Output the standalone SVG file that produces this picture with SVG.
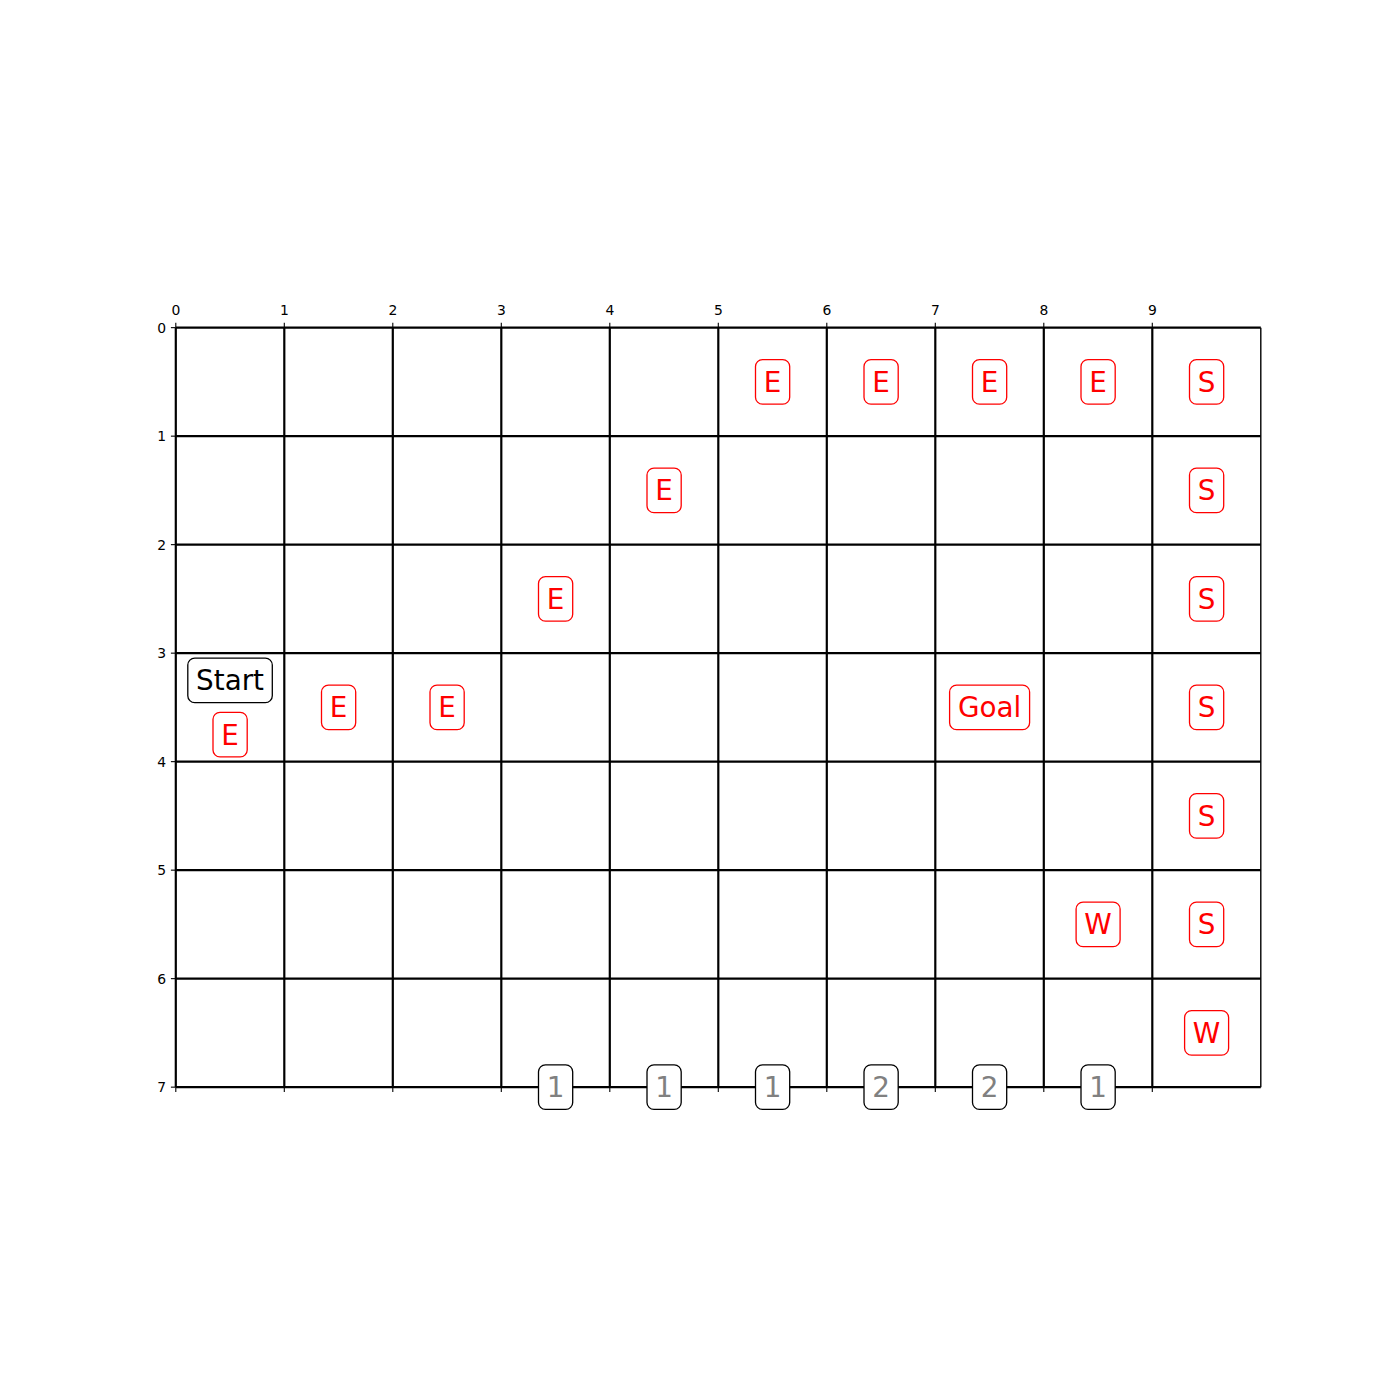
<svg xmlns="http://www.w3.org/2000/svg" width="1400" height="1400" viewBox="0 0 1400 1400">
<style>
.grid{stroke:#000;stroke-width:2.2;fill:none}
.spine{stroke:#000;stroke-width:1.4;fill:none}
.tick{stroke:#000;stroke-width:1.1}
.tl{font-family:"DejaVu Sans",sans-serif;font-size:13.9px;fill:#000}
.bx{font-family:"DejaVu Sans",sans-serif;font-size:27.8px;text-anchor:middle}
.rb{fill:#fff;stroke:#ff0000;stroke-width:1.3}
.kb{fill:#fff;stroke:#000;stroke-width:1.3}
.rt{fill:#ff0000}
.kt{fill:#000}
.gt{fill:#808080}
</style>
<rect width="1400" height="1400" fill="#fff"/>
<g transform="translate(0.8,0.4)">
<g id="connectors">
<g id="gridlines" class="grid">
<line x1="175" y1="327.25" x2="175" y2="1086.75"/>
<line x1="283.5" y1="327.25" x2="283.5" y2="1086.75"/>
<line x1="392" y1="327.25" x2="392" y2="1086.75"/>
<line x1="500.5" y1="327.25" x2="500.5" y2="1086.75"/>
<line x1="609" y1="327.25" x2="609" y2="1086.75"/>
<line x1="717.5" y1="327.25" x2="717.5" y2="1086.75"/>
<line x1="826" y1="327.25" x2="826" y2="1086.75"/>
<line x1="934.5" y1="327.25" x2="934.5" y2="1086.75"/>
<line x1="1043" y1="327.25" x2="1043" y2="1086.75"/>
<line x1="1151.5" y1="327.25" x2="1151.5" y2="1086.75"/>
<line x1="175" y1="327.25" x2="1260" y2="327.25"/>
<line x1="175" y1="435.75" x2="1260" y2="435.75"/>
<line x1="175" y1="544.25" x2="1260" y2="544.25"/>
<line x1="175" y1="652.75" x2="1260" y2="652.75"/>
<line x1="175" y1="761.25" x2="1260" y2="761.25"/>
<line x1="175" y1="869.75" x2="1260" y2="869.75"/>
<line x1="175" y1="978.25" x2="1260" y2="978.25"/>
<line x1="175" y1="1086.75" x2="1260" y2="1086.75"/>
</g>
<line class="spine" x1="1260" y1="327.25" x2="1260" y2="1086.75"/>
<g id="ticks" class="tick">
<line x1="175" y1="327.25" x2="175" y2="322.4"/><line x1="283.5" y1="327.25" x2="283.5" y2="322.4"/><line x1="392" y1="327.25" x2="392" y2="322.4"/><line x1="500.5" y1="327.25" x2="500.5" y2="322.4"/><line x1="609" y1="327.25" x2="609" y2="322.4"/><line x1="717.5" y1="327.25" x2="717.5" y2="322.4"/><line x1="826" y1="327.25" x2="826" y2="322.4"/><line x1="934.5" y1="327.25" x2="934.5" y2="322.4"/><line x1="1043" y1="327.25" x2="1043" y2="322.4"/><line x1="1151.5" y1="327.25" x2="1151.5" y2="322.4"/>
<line x1="175" y1="1086.75" x2="175" y2="1091.6"/><line x1="283.5" y1="1086.75" x2="283.5" y2="1091.6"/><line x1="392" y1="1086.75" x2="392" y2="1091.6"/><line x1="500.5" y1="1086.75" x2="500.5" y2="1091.6"/><line x1="609" y1="1086.75" x2="609" y2="1091.6"/><line x1="717.5" y1="1086.75" x2="717.5" y2="1091.6"/><line x1="826" y1="1086.75" x2="826" y2="1091.6"/><line x1="934.5" y1="1086.75" x2="934.5" y2="1091.6"/><line x1="1043" y1="1086.75" x2="1043" y2="1091.6"/><line x1="1151.5" y1="1086.75" x2="1151.5" y2="1091.6"/>
<line x1="175" y1="327.25" x2="170.1" y2="327.25"/><line x1="175" y1="435.75" x2="170.1" y2="435.75"/><line x1="175" y1="544.25" x2="170.1" y2="544.25"/><line x1="175" y1="652.75" x2="170.1" y2="652.75"/><line x1="175" y1="761.25" x2="170.1" y2="761.25"/><line x1="175" y1="869.75" x2="170.1" y2="869.75"/><line x1="175" y1="978.25" x2="170.1" y2="978.25"/><line x1="175" y1="1086.75" x2="170.1" y2="1086.75"/>
</g>
</g>
<g id="ticklabels" class="tl">
<g text-anchor="middle">
<text x="175" y="315">0</text><text x="283.5" y="315">1</text><text x="392" y="315">2</text><text x="500.5" y="315">3</text><text x="609" y="315">4</text><text x="717.5" y="315">5</text><text x="826" y="315">6</text><text x="934.5" y="315">7</text><text x="1043" y="315">8</text><text x="1151.5" y="315">9</text>
</g>
<g text-anchor="end">
<text x="165.3" y="332.3">0</text><text x="165.3" y="440.8">1</text><text x="165.3" y="549.3">2</text><text x="165.3" y="657.8">3</text><text x="165.3" y="766.3">4</text><text x="165.3" y="874.8">5</text><text x="165.3" y="983.3">6</text><text x="165.3" y="1091.8">7</text>
</g>
</g>
<g id="n-e-5-0"><rect class="rb" x="754.7" y="359.2" width="34.2" height="44.6" rx="7"/><text class="bx rt" x="771.8" y="391.5">E</text></g>
<g id="n-e-6-0"><rect class="rb" x="863.2" y="359.2" width="34.2" height="44.6" rx="7"/><text class="bx rt" x="880.3" y="391.5">E</text></g>
<g id="n-e-7-0"><rect class="rb" x="971.7" y="359.2" width="34.2" height="44.6" rx="7"/><text class="bx rt" x="988.8" y="391.5">E</text></g>
<g id="n-e-8-0"><rect class="rb" x="1080.2" y="359.2" width="34.2" height="44.6" rx="7"/><text class="bx rt" x="1097.3" y="391.5">E</text></g>
<g id="n-s-9-0"><rect class="rb" x="1188.7" y="359.2" width="34.2" height="44.6" rx="7"/><text class="bx rt" x="1205.8" y="391.5">S</text></g>
<g id="n-e-4-1"><rect class="rb" x="646.2" y="467.7" width="34.2" height="44.6" rx="7"/><text class="bx rt" x="663.3" y="500">E</text></g>
<g id="n-s-9-1"><rect class="rb" x="1188.7" y="467.7" width="34.2" height="44.6" rx="7"/><text class="bx rt" x="1205.8" y="500">S</text></g>
<g id="n-e-3-2"><rect class="rb" x="537.7" y="576.2" width="34.2" height="44.6" rx="7"/><text class="bx rt" x="554.8" y="608.5">E</text></g>
<g id="n-s-9-2"><rect class="rb" x="1188.7" y="576.2" width="34.2" height="44.6" rx="7"/><text class="bx rt" x="1205.8" y="608.5">S</text></g>
<g id="n-start"><rect class="kb" x="187" y="657.7" width="84.5" height="44.6" rx="7"/><text class="bx kt" x="229.25" y="690">Start</text></g>
<g id="n-e-0-3"><rect class="rb" x="212.2" y="711.9" width="34.2" height="44.6" rx="7"/><text class="bx rt" x="229.3" y="744.2">E</text></g>
<g id="n-e-1-3"><rect class="rb" x="320.7" y="684.7" width="34.2" height="44.6" rx="7"/><text class="bx rt" x="337.8" y="717">E</text></g>
<g id="n-e-2-3"><rect class="rb" x="429.2" y="684.7" width="34.2" height="44.6" rx="7"/><text class="bx rt" x="446.3" y="717">E</text></g>
<g id="n-goal"><rect class="rb" x="948.8" y="684.7" width="80" height="44.6" rx="7"/><text class="bx rt" x="988.8" y="717">Goal</text></g>
<g id="n-s-9-3"><rect class="rb" x="1188.7" y="684.7" width="34.2" height="44.6" rx="7"/><text class="bx rt" x="1205.8" y="717">S</text></g>
<g id="n-s-9-4"><rect class="rb" x="1188.7" y="793.2" width="34.2" height="44.6" rx="7"/><text class="bx rt" x="1205.8" y="825.5">S</text></g>
<g id="n-w-8-5"><rect class="rb" x="1075.3" y="901.7" width="44" height="44.6" rx="7"/><text class="bx rt" x="1097.3" y="934">W</text></g>
<g id="n-s-9-5"><rect class="rb" x="1188.7" y="901.7" width="34.2" height="44.6" rx="7"/><text class="bx rt" x="1205.8" y="934">S</text></g>
<g id="n-w-9-6"><rect class="rb" x="1183.8" y="1010.2" width="44" height="44.6" rx="7"/><text class="bx rt" x="1205.8" y="1042.5">W</text></g>
<g id="n-c-3"><rect class="kb" x="537.7" y="1064.45" width="34.2" height="44.6" rx="7"/><text class="bx gt" x="554.8" y="1096.75">1</text></g>
<g id="n-c-4"><rect class="kb" x="646.2" y="1064.45" width="34.2" height="44.6" rx="7"/><text class="bx gt" x="663.3" y="1096.75">1</text></g>
<g id="n-c-5"><rect class="kb" x="754.7" y="1064.45" width="34.2" height="44.6" rx="7"/><text class="bx gt" x="771.8" y="1096.75">1</text></g>
<g id="n-c-6"><rect class="kb" x="863.2" y="1064.45" width="34.2" height="44.6" rx="7"/><text class="bx gt" x="880.3" y="1096.75">2</text></g>
<g id="n-c-7"><rect class="kb" x="971.7" y="1064.45" width="34.2" height="44.6" rx="7"/><text class="bx gt" x="988.8" y="1096.75">2</text></g>
<g id="n-c-8"><rect class="kb" x="1080.2" y="1064.45" width="34.2" height="44.6" rx="7"/><text class="bx gt" x="1097.3" y="1096.75">1</text></g>
</g>
</svg>
